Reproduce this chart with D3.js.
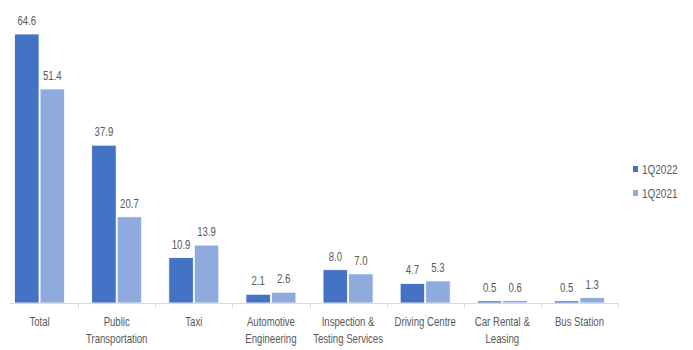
<!DOCTYPE html>
<html>
<head>
<meta charset="utf-8">
<script src="https://cdn.jsdelivr.net/npm/d3@7"></script>
<style>
  html, body { margin: 0; padding: 0; background: #fff; }
  svg text { font-family: "Liberation Sans", Arial, sans-serif; }
</style>
</head>
<body>
<svg id="chart" width="693" height="350"></svg>
<script>
// Categories (line breaks within labels) and quarterly values
const categories = [
  ["Total"],
  ["Public", "Transportation"],
  ["Taxi"],
  ["Automotive", "Engineering"],
  ["Inspection &", "Testing Services"],
  ["Driving Centre"],
  ["Car Rental &", "Leasing"],
  ["Bus Station"]
];
const seriesNames = ["1Q2022", "1Q2021"];
const values1Q2022 = [64.6, 37.9, 10.9, 2.1, 8.0, 4.7, 0.5, 0.5];
const values1Q2021 = [51.4, 20.7, 13.9, 2.6, 7.0, 5.3, 0.6, 1.3];
const colors = ["#4472C4", "#8FAADC"];

const svg = d3.select("#chart");
const baseY = 303;
const keys = categories.map((c, i) => i);
const narrow = 0.8; // horizontal squeeze for a condensed look

const x = d3.scaleBand().domain(keys).range([1, 618]).paddingInner(0).paddingOuter(0);
const x1 = d3.scaleBand().domain(seriesNames).range([0, 50]).paddingInner(0.04);
const y = d3.scaleLinear().domain([0, 64.6]).range([baseY, 34]);

const series = [values1Q2022, values1Q2021];

// condensed text helper: anchor at (cx, cy), squeeze horizontally
function label(parent, cx, cy, lines, opts) {
  const g = parent.append("g").attr("transform", `translate(${cx},${cy}) scale(${narrow},1)`);
  const t = g.append("text")
    .attr("text-anchor", opts.anchor || "middle")
    .attr("font-size", opts.size)
    .attr("fill", "#595959");
  lines.forEach((ln, k) => {
    t.append("tspan").attr("x", 0).attr("dy", k === 0 ? 0 : opts.lh || 0).text(ln);
  });
  return g;
}

// Bars and value labels
series.forEach((vals, s) => {
  const g = svg.append("g");
  vals.forEach((v, i) => {
    const bx = x(i) + (x.bandwidth() - 50) / 2 + x1(seriesNames[s]);
    g.append("rect")
      .attr("x", bx)
      .attr("y", y(v))
      .attr("width", x1.bandwidth())
      .attr("height", baseY - y(v))
      .attr("fill", colors[s])
      .attr("stroke", "#fff")
      .attr("stroke-width", 0.8);
    label(g, bx + x1.bandwidth() / 2, y(v) - 9, [v.toFixed(1)], { size: 12 });
  });
});

// Category axis
const axisG = svg.append("g").attr("transform", `translate(0,${baseY})`);
axisG.append("line")
  .attr("x1", 10).attr("x2", 618)
  .attr("y1", 0.5).attr("y2", 0.5)
  .attr("stroke", "#d9d9d9");
keys.slice(1).concat([keys.length]).forEach(i => {
  const tx = i < keys.length ? x(i) : x.range()[1];
  axisG.append("line")
    .attr("x1", Math.round(tx) + 0.5).attr("x2", Math.round(tx) + 0.5)
    .attr("y1", 0).attr("y2", 5)
    .attr("stroke", "#d9d9d9");
});
categories.forEach((lines, i) => {
  label(axisG, x(i) + x.bandwidth() / 2, 23, lines, { size: 12, lh: 17 });
});

// Legend
const legend = svg.append("g").attr("transform", "translate(633,166)");
seriesNames.forEach((name, s) => {
  const row = legend.append("g").attr("transform", `translate(0,${s * 24})`);
  row.append("rect").attr("x", 0).attr("y", 0).attr("width", 5).attr("height", 6).attr("fill", colors[s]);
  label(row, 9, 8, [name], { size: 12.5, anchor: "start" });
});
</script>
</body>
</html>
